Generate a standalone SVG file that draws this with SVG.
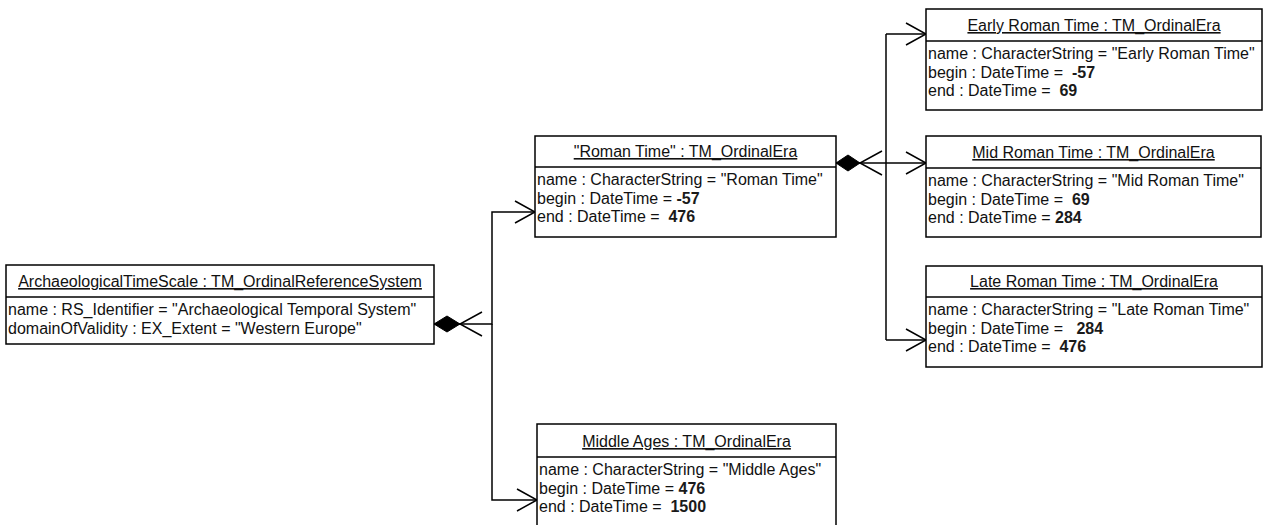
<svg xmlns="http://www.w3.org/2000/svg" width="1264" height="525" viewBox="0 0 1264 525">
<style>
  .box { fill: #fff; stroke: #000; stroke-width: 1.5; }
  .div { stroke: #000; stroke-width: 1.5; }
  text { font-family: "Liberation Sans", Arial, sans-serif; font-size: 16px; fill: #111; white-space: pre; }
  .hd { text-anchor: middle; text-decoration: underline; }
  .num { font-weight: bold; fill: #1a1a1a; }
  .ln { fill: none; stroke: #000; stroke-width: 1.5; }
  .dia { fill: #000; stroke: #000; stroke-width: 1; }
</style>
<rect width="1264" height="525" fill="#fff"/>

<g id="connectors">
  <path class="ln" d="M434,324 H492 V212 H535"/>
  <path class="ln" d="M492,324 V500 H537"/>
  <polygon class="dia" points="434,324 447,316 460,324 447,332"/>
  <polyline class="ln" points="482,312 460,324 482,336"/>
  <polyline class="ln" points="515,201 535,212 515,223"/>
  <polyline class="ln" points="517,489 537,500 517,511"/>

  <path class="ln" d="M836,163 H926"/>
  <path class="ln" d="M886,34 V340"/>
  <path class="ln" d="M886,34 H926"/>
  <path class="ln" d="M886,340 H926"/>
  <polygon class="dia" points="836,163 848,155 860,163 848,171"/>
  <polyline class="ln" points="882,151 860,163 882,175"/>
  <polyline class="ln" points="906,23 926,34 906,45"/>
  <polyline class="ln" points="906,152 926,163 906,174"/>
  <polyline class="ln" points="906,329 926,340 906,351"/>
</g>

<g id="archaeologicalTimeScale">
  <rect class="box" x="6" y="265" width="428" height="79"/>
  <line class="div" x1="6" y1="297" x2="434" y2="297"/>
  <text class="hd" x="220" y="287">ArchaeologicalTimeScale : TM_OrdinalReferenceSystem</text>
  <text x="8" y="315">name : RS_Identifier = "Archaeological Temporal System"</text>
  <text x="8" y="333.5">domainOfValidity : EX_Extent = "Western Europe"</text>
</g>

<g id="romanTime">
  <rect class="box" x="535" y="136" width="301" height="101"/>
  <line class="div" x1="535" y1="167" x2="836" y2="167"/>
  <text class="hd" x="685.5" y="157">"Roman Time" : TM_OrdinalEra</text>
  <text x="537" y="185">name : CharacterString = "Roman Time"</text>
  <text x="537" y="203.5">begin : DateTime = <tspan class="num">-57</tspan></text>
  <text x="537" y="222">end : DateTime =  <tspan class="num">476</tspan></text>
</g>

<g id="earlyRomanTime">
  <rect class="box" x="926" y="9" width="336" height="101"/>
  <line class="div" x1="926" y1="41" x2="1262" y2="41"/>
  <text class="hd" x="1094" y="31">Early Roman Time : TM_OrdinalEra</text>
  <text x="928" y="59">name : CharacterString = "Early Roman Time"</text>
  <text x="928" y="77.5">begin : DateTime =  <tspan class="num">-57</tspan></text>
  <text x="928" y="96">end : DateTime =  <tspan class="num">69</tspan></text>
</g>

<g id="midRomanTime">
  <rect class="box" x="926" y="136" width="335" height="101"/>
  <line class="div" x1="926" y1="168" x2="1261" y2="168"/>
  <text class="hd" x="1093.5" y="158">Mid Roman Time : TM_OrdinalEra</text>
  <text x="928" y="186">name : CharacterString = "Mid Roman Time"</text>
  <text x="928" y="204.5">begin : DateTime =  <tspan class="num">69</tspan></text>
  <text x="928" y="223">end : DateTime = <tspan class="num">284</tspan></text>
</g>

<g id="lateRomanTime">
  <rect class="box" x="926" y="266" width="336" height="101"/>
  <line class="div" x1="926" y1="297" x2="1262" y2="297"/>
  <text class="hd" x="1094" y="287">Late Roman Time : TM_OrdinalEra</text>
  <text x="928" y="315">name : CharacterString = "Late Roman Time"</text>
  <text x="928" y="333.5">begin : DateTime =   <tspan class="num">284</tspan></text>
  <text x="928" y="352">end : DateTime =  <tspan class="num">476</tspan></text>
</g>

<g id="middleAges">
  <rect class="box" x="537" y="424" width="299" height="115"/>
  <line class="div" x1="537" y1="457" x2="836" y2="457"/>
  <text class="hd" x="686.5" y="447">Middle Ages : TM_OrdinalEra</text>
  <text x="539" y="475">name : CharacterString = "Middle Ages"</text>
  <text x="539" y="493.5">begin : DateTime = <tspan class="num">476</tspan></text>
  <text x="539" y="512">end : DateTime =  <tspan class="num">1500</tspan></text>
</g>
</svg>
